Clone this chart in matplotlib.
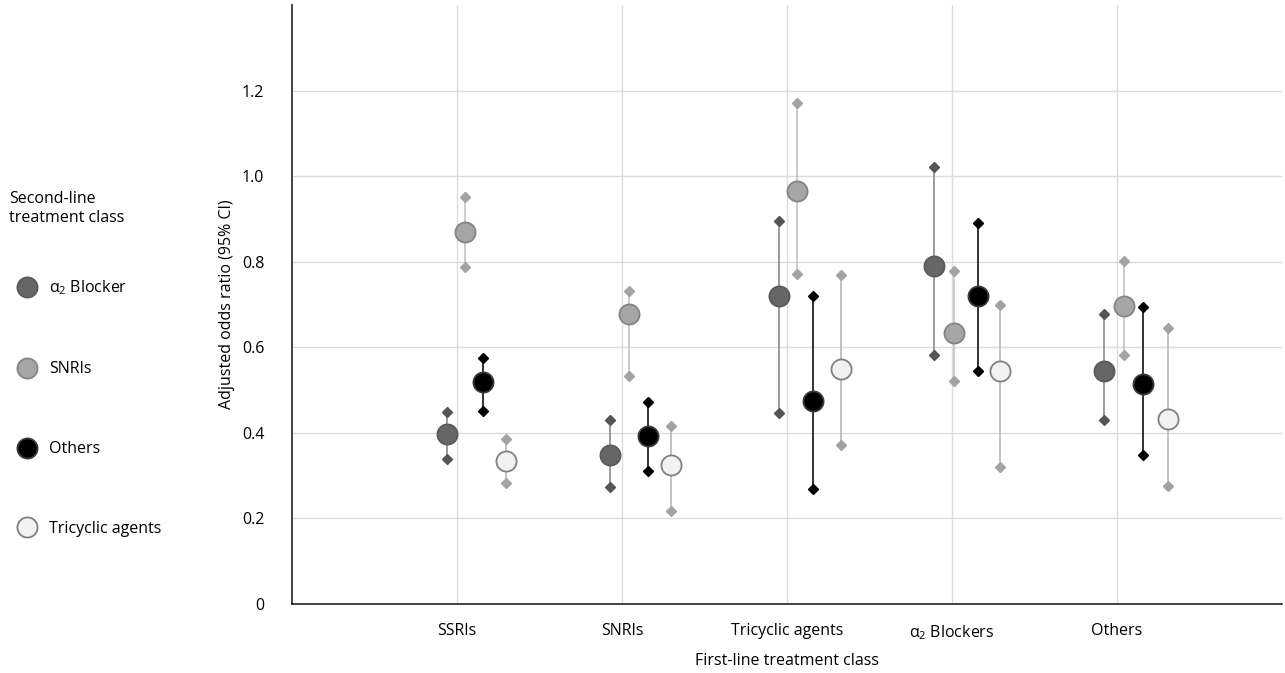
import matplotlib
matplotlib.use("Agg")
import matplotlib.pyplot as plt
from matplotlib.lines import Line2D
import numpy as np

plt.rcParams['font.family'] = ['Open Sans', 'DejaVu Sans']
plt.rcParams['mathtext.default'] = 'regular'

categories = ["SSRIs", "SNRIs", "Tricyclic agents", "α$_2$ Blockers", "Others"]
series = ["α$_2$ Blocker", "SNRIs", "Others", "Tricyclic agents"]

# point estimates, lower CI, upper CI per series (order of categories)
a2_est = [0.398, 0.349, 0.720, 0.790, 0.545]
a2_lo = [0.339, 0.274, 0.447, 0.582, 0.430]
a2_hi = [0.449, 0.430, 0.896, 1.022, 0.678]

snri_est = [0.870, 0.678, 0.966, 0.634, 0.697]
snri_lo = [0.788, 0.533, 0.772, 0.522, 0.582]
snri_hi = [0.952, 0.732, 1.170, 0.779, 0.802]

oth_est = [0.519, 0.393, 0.475, 0.720, 0.514]
oth_lo = [0.451, 0.311, 0.269, 0.545, 0.349]
oth_hi = [0.575, 0.472, 0.720, 0.891, 0.695]

tca_est = [0.335, 0.325, 0.550, 0.545, 0.432]
tca_lo = [0.283, 0.218, 0.372, 0.320, 0.276]
tca_hi = [0.386, 0.416, 0.770, 0.699, 0.645]

yticks = [0, 0.2, 0.4, 0.6, 0.8, 1.0, 1.2]
ytick_labels = ["0", "0.2", "0.4", "0.6", "0.8", "1.0", "1.2"]

# styling
offsets = [
    [-0.06, 0.05, 0.16, 0.30],
    [-0.07, 0.04, 0.16, 0.30],
    [-0.05, 0.06, 0.16, 0.33],
    [-0.11, 0.01, 0.16, 0.29],
    [-0.08, 0.04, 0.16, 0.31],
]
face = ["#666666", "#a6a6a6", "#000000", "#f2f2f2"]
edge = ["#5a5a5a", "#858585", "#3a3a3a", "#808080"]
capc = ["#555555", "#a3a3a3", "#000000", "#a3a3a3"]
linec = ["#8a8a8a", "#c4c4c4", "#111111", "#b8b8b8"]

data = [(a2_est, a2_lo, a2_hi), (snri_est, snri_lo, snri_hi),
        (oth_est, oth_lo, oth_hi), (tca_est, tca_lo, tca_hi)]

fig = plt.figure(figsize=(12.85, 6.73), dpi=100)
ax = fig.add_axes([0.2272, 0.1025, 0.7705, 0.8901])

base = np.arange(1, len(categories) + 1)
for s, (est, lo, hi) in enumerate(data):
    xs = base + np.array([offsets[c][s] for c in range(len(categories))])
    ax.vlines(xs, lo, hi, color=linec[s], lw=1.2, zorder=3)
    ax.plot(xs, lo, ls='none', marker='D', ms=5.5, color=capc[s], zorder=4)
    ax.plot(xs, hi, ls='none', marker='D', ms=5.5, color=capc[s], zorder=4)
    ax.plot(xs, est, ls='none', marker='o', ms=14.5, mfc=face[s], mec=edge[s],
            mew=1.3, zorder=5)

ax.set_xlim(0, 6)
ax.set_ylim(0, 1.4)
ax.set_xticks(base)
ax.set_xticklabels(categories, fontsize=11.5)
ax.set_yticks(yticks)
ax.set_yticklabels(ytick_labels, fontsize=11.5)
ax.tick_params(length=0, pad=20)
ax.tick_params(axis='x', pad=14)
ax.grid(True, color="#dcdcdc", lw=1.0)
ax.set_axisbelow(True)
for sp in ['top', 'right']:
    ax.spines[sp].set_visible(False)
for sp in ['left', 'bottom']:
    ax.spines[sp].set_color('#222222')
    ax.spines[sp].set_linewidth(1.2)
ax.set_xlabel("First-line treatment class", fontsize=11.5, labelpad=8)
ax.set_ylabel("Adjusted odds ratio (95% CI)", fontsize=11.5, labelpad=5)

handles = [Line2D([], [], ls='none', marker='o', ms=14.5, mfc=face[s], mec=edge[s],
                  mew=1.3) for s in range(4)]
leg = fig.legend(handles, series, loc='upper left', bbox_to_anchor=(0.002, 0.725),
                 frameon=False, fontsize=11.5, title="Second-line\ntreatment class",
                 title_fontsize=11.5, alignment='left', labelspacing=4.0,
                 handletextpad=0.3, handlelength=2.2, borderaxespad=0)
leg._legend_box.sep = 38

fig.savefig("out.png", dpi=100)
